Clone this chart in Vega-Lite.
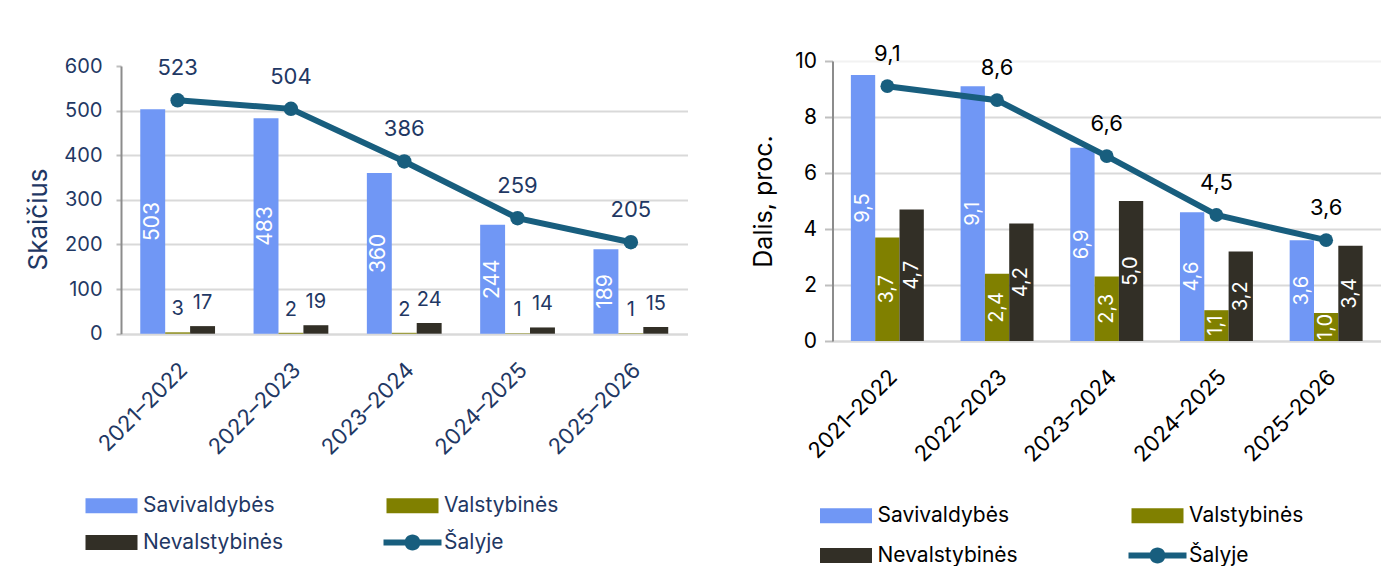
{
  "$schema": "https://vega.github.io/schema/vega-lite/v6.json",
  "autosize": {"type": "pad"},
  "padding": {"left": 25, "top": 43, "right": 0, "bottom": 0},
  "background": "white",
  "datasets": {
    "counts": [
      {"period": "2021–2022", "series": "Savivaldybės", "value": 503},
      {"period": "2021–2022", "series": "Valstybinės", "value": 3},
      {"period": "2021–2022", "series": "Nevalstybinės", "value": 17},
      {"period": "2021–2022", "series": "Šalyje", "value": 523},
      {"period": "2022–2023", "series": "Savivaldybės", "value": 483},
      {"period": "2022–2023", "series": "Valstybinės", "value": 2},
      {"period": "2022–2023", "series": "Nevalstybinės", "value": 19},
      {"period": "2022–2023", "series": "Šalyje", "value": 504},
      {"period": "2023–2024", "series": "Savivaldybės", "value": 360},
      {"period": "2023–2024", "series": "Valstybinės", "value": 2},
      {"period": "2023–2024", "series": "Nevalstybinės", "value": 24},
      {"period": "2023–2024", "series": "Šalyje", "value": 386},
      {"period": "2024–2025", "series": "Savivaldybės", "value": 244},
      {"period": "2024–2025", "series": "Valstybinės", "value": 1},
      {"period": "2024–2025", "series": "Nevalstybinės", "value": 14},
      {"period": "2024–2025", "series": "Šalyje", "value": 259},
      {"period": "2025–2026", "series": "Savivaldybės", "value": 189},
      {"period": "2025–2026", "series": "Valstybinės", "value": 1},
      {"period": "2025–2026", "series": "Nevalstybinės", "value": 15},
      {"period": "2025–2026", "series": "Šalyje", "value": 205}
    ],
    "shares": [
      {"period": "2021–2022", "series": "Savivaldybės", "value": 9.5},
      {"period": "2021–2022", "series": "Valstybinės", "value": 3.7},
      {"period": "2021–2022", "series": "Nevalstybinės", "value": 4.7},
      {"period": "2021–2022", "series": "Šalyje", "value": 9.1},
      {"period": "2022–2023", "series": "Savivaldybės", "value": 9.1},
      {"period": "2022–2023", "series": "Valstybinės", "value": 2.4},
      {"period": "2022–2023", "series": "Nevalstybinės", "value": 4.2},
      {"period": "2022–2023", "series": "Šalyje", "value": 8.6},
      {"period": "2023–2024", "series": "Savivaldybės", "value": 6.9},
      {"period": "2023–2024", "series": "Valstybinės", "value": 2.3},
      {"period": "2023–2024", "series": "Nevalstybinės", "value": 5.0},
      {"period": "2023–2024", "series": "Šalyje", "value": 6.6},
      {"period": "2024–2025", "series": "Savivaldybės", "value": 4.6},
      {"period": "2024–2025", "series": "Valstybinės", "value": 1.1},
      {"period": "2024–2025", "series": "Nevalstybinės", "value": 3.2},
      {"period": "2024–2025", "series": "Šalyje", "value": 4.5},
      {"period": "2025–2026", "series": "Savivaldybės", "value": 3.6},
      {"period": "2025–2026", "series": "Valstybinės", "value": 1.0},
      {"period": "2025–2026", "series": "Nevalstybinės", "value": 3.4},
      {"period": "2025–2026", "series": "Šalyje", "value": 3.6}
    ]
  },
  "config": {
    "view": {"stroke": null},
    "font": "Inter",
    "locale": {"number": {"decimal": ",", "thousands": " ", "grouping": [3], "currency": ["", " €"]}}
  },
  "bounds": "flush",
  "spacing": 144.5,
  "resolve": {"scale": {"color": "independent", "x": "independent", "y": "independent", "xOffset": "independent"}, "legend": {"color": "independent"}},
  "hconcat": [
    {
      "width": 566.5,
      "height": 273,
      "data": {"name": "counts"},
      "encoding": {
        "x": {
          "field": "period", "type": "nominal", "sort": null,
          "scale": {"paddingInner": 0.34, "paddingOuter": 0.17},
          "axis": {
            "title": null, "labelAngle": -45, "labelAlign": "right", "labelBaseline": "top",
            "labelFont": "Inter", "labelFontSize": 22, "labelColor": "#1F3864", "labelPadding": 25, "labelOffset": -1,
            "ticks": false, "domainColor": "#D9D9D9", "domainWidth": 2, "grid": false
          }
        }
      },
      "layer": [
        {
          "transform": [{"filter": "datum.series !== 'Šalyje'"}],
          "mark": {"type": "bar"},
          "encoding": {
            "xOffset": {"field": "series", "type": "nominal", "scale": {"domain": ["Savivaldybės", "Valstybinės", "Nevalstybinės"]}},
            "y": {
              "field": "value", "type": "quantitative",
              "scale": {"domain": [0, 600], "range": [272.7, 5], "nice": false},
              "axis": {
                "title": "Skaičius", "values": [0, 100, 200, 300, 400, 500, 600],
                "labelFont": "Inter", "labelFontSize": 20, "labelColor": "#1F3864", "labelPadding": 14,
                "tickSize": 5, "tickColor": "#BFBFBF", "tickWidth": 2,
                "domainColor": "#8C8C8C", "domainWidth": 2,
                "gridColor": {"condition": {"test": "datum.value === 600", "value": "transparent"}, "value": "#D9D9D9"},
                "gridWidth": 2,
                "titleFont": "Inter", "titleFontSize": 26, "titleFontWeight": "normal", "titleColor": "#1F3864",
                "titlePadding": 12, "titleY": 158
              }
            },
            "color": {
              "field": "series", "type": "nominal",
              "scale": {"domain": ["Savivaldybės", "Valstybinės", "Nevalstybinės", "Šalyje"], "range": ["#7097F5", "#808000", "#322F26", "#185E7E"]},
              "legend": {
                "title": null, "orient": "none", "direction": "horizontal", "legendX": -20, "legendY": 434, "columns": 2, "padding": 0,
                "symbolSize": 400, "symbolStrokeWidth": 0, "labelOffset": 21,
                "labelFont": "Inter", "labelFontSize": 21, "labelColor": "#1F3864", "labelLimit": 300,
                "columnPadding": 99, "rowPadding": 15,
                "encode": {"symbols": {"update": {
                  "shape": {"signal": "datum.value === 'Šalyje' ? 'M-2.9,-0.3H2.9V0.3H-2.9Z M-0.8,0A0.8,0.8 0 1,1 0.8,0A0.8,0.8 0 1,1 -0.8,0Z' : 'M-2.6,-0.75H2.6V0.75H-2.6Z'"},
                  "fill": {"signal": "datum.value === 'Savivaldybės' ? '#7097F5' : datum.value === 'Valstybinės' ? '#808000' : datum.value === 'Nevalstybinės' ? '#322F26' : '#185E7E'"},
                  "stroke": {"value": "transparent"},
                  "strokeWidth": {"value": 0},
                  "opacity": {"value": 1}
                }}}
              }
            }
          }
        },
        {
          "transform": [{"filter": "datum.series === 'Savivaldybės'"}, {"calculate": "datum.value / 2", "as": "mid"}],
          "mark": {"type": "text", "angle": 270, "align": "center", "baseline": "middle", "color": "white", "font": "Inter", "fontSize": 21},
          "encoding": {
            "xOffset": {"field": "series", "type": "nominal"},
            "y": {"field": "mid", "type": "quantitative"},
            "text": {"field": "value", "type": "quantitative", "format": "d"}
          }
        },
        {
          "transform": [{"filter": "datum.series === 'Valstybinės' || datum.series === 'Nevalstybinės'"}],
          "mark": {"type": "text", "align": "center", "baseline": "alphabetic", "dy": -17, "color": "#1F3864", "font": "Inter", "fontSize": 20},
          "encoding": {
            "xOffset": {"field": "series", "type": "nominal"},
            "y": {"field": "value", "type": "quantitative"},
            "text": {"field": "value", "type": "quantitative", "format": "d"}
          }
        },
        {
          "transform": [{"filter": "datum.series === 'Šalyje'"}],
          "mark": {"type": "line", "color": "#185E7E", "strokeWidth": 6},
          "encoding": {"y": {"field": "value", "type": "quantitative"}}
        },
        {
          "transform": [{"filter": "datum.series === 'Šalyje'"}],
          "mark": {"type": "point", "filled": true, "opacity": 1, "color": "#185E7E", "size": 210},
          "encoding": {"y": {"field": "value", "type": "quantitative"}}
        },
        {
          "transform": [{"filter": "datum.series === 'Šalyje'"}],
          "mark": {"type": "text", "align": "center", "baseline": "alphabetic", "dy": -25, "color": "#1F3864", "font": "Inter", "fontSize": 22},
          "encoding": {
            "y": {"field": "value", "type": "quantitative"},
            "text": {"field": "value", "type": "quantitative", "format": "d"}
          }
        }
      ]
    },
    {
      "width": 548.5,
      "height": 280,
      "data": {"name": "shares"},
      "encoding": {
        "x": {
          "field": "period", "type": "nominal", "sort": null,
          "scale": {"paddingInner": 0.335, "paddingOuter": 0.1675},
          "axis": {
            "title": null, "labelAngle": -45, "labelAlign": "right", "labelBaseline": "top",
            "labelFont": "Inter", "labelFontSize": 22, "labelColor": "#000000", "labelPadding": 25, "labelOffset": -1,
            "ticks": false, "domainColor": "#D9D9D9", "domainWidth": 2, "grid": false
          }
        }
      },
      "layer": [
        {
          "transform": [{"filter": "datum.series !== 'Šalyje'"}],
          "mark": {"type": "bar"},
          "encoding": {
            "xOffset": {"field": "series", "type": "nominal", "scale": {"domain": ["Savivaldybės", "Valstybinės", "Nevalstybinės"]}},
            "y": {
              "field": "value", "type": "quantitative",
              "scale": {"domain": [0, 10], "nice": false},
              "axis": {
                "title": "Dalis, proc.", "values": [0, 2, 4, 6, 8, 10],
                "labelFont": "Inter", "labelFontSize": 21, "labelColor": "#000000", "labelPadding": 8,
                "tickSize": 8, "tickColor": "#BFBFBF", "tickWidth": 2,
                "domainColor": "#8C8C8C", "domainWidth": 2,
                "gridColor": {"condition": {"test": "datum.value === 10", "value": "#F2F2F2"}, "value": "#D9D9D9"},
                "gridWidth": 2,
                "titleFont": "Inter", "titleFontSize": 25, "titleFontWeight": "normal", "titleColor": "#000000",
                "titlePadding": 18
              }
            },
            "color": {
              "field": "series", "type": "nominal",
              "scale": {"domain": ["Savivaldybės", "Valstybinės", "Nevalstybinės", "Šalyje"], "range": ["#7097F5", "#808000", "#322F26", "#185E7E"]},
              "legend": {
                "title": null, "orient": "none", "direction": "horizontal", "legendX": 3, "legendY": 444, "columns": 2, "padding": 0,
                "symbolSize": 400, "symbolStrokeWidth": 0, "labelOffset": 21,
                "labelFont": "Inter", "labelFontSize": 21, "labelColor": "#000000", "labelLimit": 300,
                "columnPadding": 109.5, "rowPadding": 18,
                "encode": {"symbols": {"update": {
                  "shape": {"signal": "datum.value === 'Šalyje' ? 'M-2.9,-0.3H2.9V0.3H-2.9Z M-0.8,0A0.8,0.8 0 1,1 0.8,0A0.8,0.8 0 1,1 -0.8,0Z' : 'M-2.6,-0.75H2.6V0.75H-2.6Z'"},
                  "fill": {"signal": "datum.value === 'Savivaldybės' ? '#7097F5' : datum.value === 'Valstybinės' ? '#808000' : datum.value === 'Nevalstybinės' ? '#322F26' : '#185E7E'"},
                  "stroke": {"value": "transparent"},
                  "strokeWidth": {"value": 0},
                  "opacity": {"value": 1}
                }}}
              }
            }
          }
        },
        {
          "transform": [{"filter": "datum.series !== 'Šalyje'"}, {"calculate": "datum.value / 2", "as": "mid"}],
          "mark": {"type": "text", "angle": 270, "align": "center", "baseline": "middle", "color": "white", "font": "Inter", "fontSize": 20},
          "encoding": {
            "xOffset": {"field": "series", "type": "nominal"},
            "y": {"field": "mid", "type": "quantitative"},
            "text": {"field": "value", "type": "quantitative", "format": ".1f"}
          }
        },
        {
          "transform": [{"filter": "datum.series === 'Šalyje'"}],
          "mark": {"type": "line", "color": "#185E7E", "strokeWidth": 6},
          "encoding": {"y": {"field": "value", "type": "quantitative"}}
        },
        {
          "transform": [{"filter": "datum.series === 'Šalyje'"}],
          "mark": {"type": "point", "filled": true, "opacity": 1, "color": "#185E7E", "size": 190},
          "encoding": {"y": {"field": "value", "type": "quantitative"}}
        },
        {
          "transform": [{"filter": "datum.series === 'Šalyje'"}],
          "mark": {"type": "text", "align": "center", "baseline": "alphabetic", "dy": -25, "color": "#000000", "font": "Inter", "fontSize": 22},
          "encoding": {
            "y": {"field": "value", "type": "quantitative"},
            "text": {"field": "value", "type": "quantitative", "format": ".1f"}
          }
        }
      ]
    }
  ]
}
